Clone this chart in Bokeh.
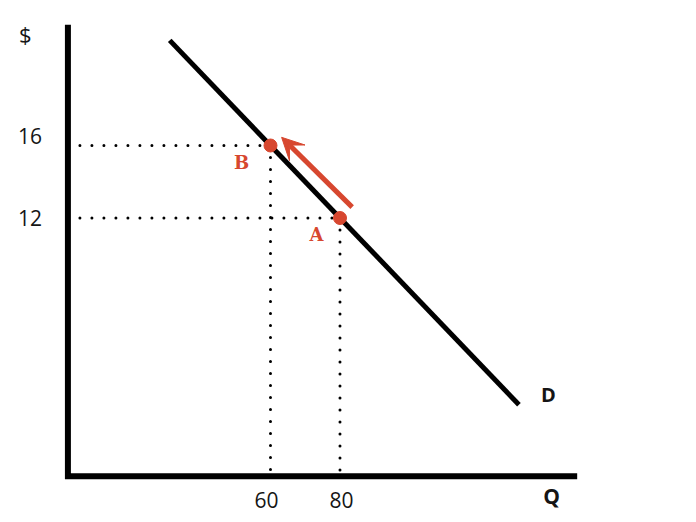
from bokeh.plotting import figure
from bokeh.models import Range1d, Arrow, VeeHead, Label
from bokeh.embed import file_html
from bokeh.resources import INLINE

# data
demand_q = [31, 131.5]
demand_p = [21.8, 1.7]
point_names = ["B", "A"]
point_q = [60, 80]
point_p = [16, 12]
arrow_from = (83.5, 12.6)
arrow_to = (63.2, 16.45)
x_ticks = [60, 80]
y_ticks = [16, 12]
x_tick_labels = ["60", "80"]
y_tick_labels = ["16", "12"]

# axes extents (data units)
AX_Q0, AX_P0 = 1.7, -2.25
AX_Q1, AX_P1 = 147.4, 22.5

RED = "#d7472f"
INK = "#151515"

p = figure(width=696, height=522, output_backend="svg", toolbar_location=None,
           x_range=Range1d(-17.7, 182.6), y_range=Range1d(-4.8, 24.0),
           x_axis_location=None, y_axis_location=None, min_border=0)
p.outline_line_color = None
p.grid.visible = False

# axes
p.line([AX_Q0, AX_Q0, AX_Q1], [AX_P1, AX_P0, AX_P0], line_color="black", line_width=6,
       line_cap="square", line_join="miter")

# dotted guides
for q, pr in zip(point_q, point_p):
    p.line([AX_Q0, q], [pr, pr], line_color="black", line_width=3, line_dash="0 12", line_cap="round")
    p.line([q, q], [pr, AX_P0], line_color="black", line_width=3, line_dash="0 12", line_cap="round")

# demand
p.line(demand_q, demand_p, line_color="black", line_width=5)

# points
p.scatter(point_q, point_p, size=13, color=RED)

# arrow
p.add_layout(Arrow(x_start=arrow_from[0], y_start=arrow_from[1], x_end=arrow_to[0], y_end=arrow_to[1],
                   line_color=RED, line_width=5,
                   end=VeeHead(size=22, fill_color=RED, line_color=RED, line_width=1)))

# tick labels
y_nudge = {"16": 10, "12": 0}
for t, lab in zip(y_ticks, y_tick_labels):
    p.add_layout(Label(x=AX_Q0, y=t, text=lab, x_offset=-38, y_offset=y_nudge[lab],
                       text_align="center", text_baseline="middle", text_font="Open Sans",
                       text_font_size="21px", text_color=INK))
x_nudge = {"60": -4, "80": 1.5}
for t, lab in zip(x_ticks, x_tick_labels):
    p.add_layout(Label(x=t, y=AX_P0, text=lab, x_offset=x_nudge[lab], y_offset=-23.5,
                       text_align="center", text_baseline="middle", text_font="Open Sans",
                       text_font_size="21px", text_color=INK))

# point labels
offs = {"B": (-29, -17), "A": (-23.5, -16.5)}
for n, q, pr in zip(point_names, point_q, point_p):
    dx, dy = offs[n]
    p.add_layout(Label(x=q, y=pr, text=n, x_offset=dx, y_offset=dy, text_align="center",
                       text_baseline="middle", text_font="DejaVu Serif", text_font_style="bold",
                       text_font_size="18px", text_color=RED))

# D label
p.add_layout(Label(x=demand_q[1], y=demand_p[1], text="D", x_offset=29.5, y_offset=10,
                   text_align="center", text_baseline="middle", text_font="Open Sans",
                   text_font_style="bold", text_font_size="20px", text_color=INK))

# axis titles
p.add_layout(Label(x=AX_Q0, y=AX_P1, text="$", x_offset=-42.5, y_offset=-6, text_align="center",
                   text_baseline="middle", text_font="Open Sans", text_font_size="22px",
                   text_color=INK))
p.add_layout(Label(x=AX_Q1, y=AX_P0, text="Q", x_offset=-22.7, y_offset=-20.2, text_align="center",
                   text_baseline="middle", text_font="Open Sans", text_font_style="bold",
                   text_font_size="21px", text_color=INK))

open("out.html", "w").write(file_html(p, INLINE))
